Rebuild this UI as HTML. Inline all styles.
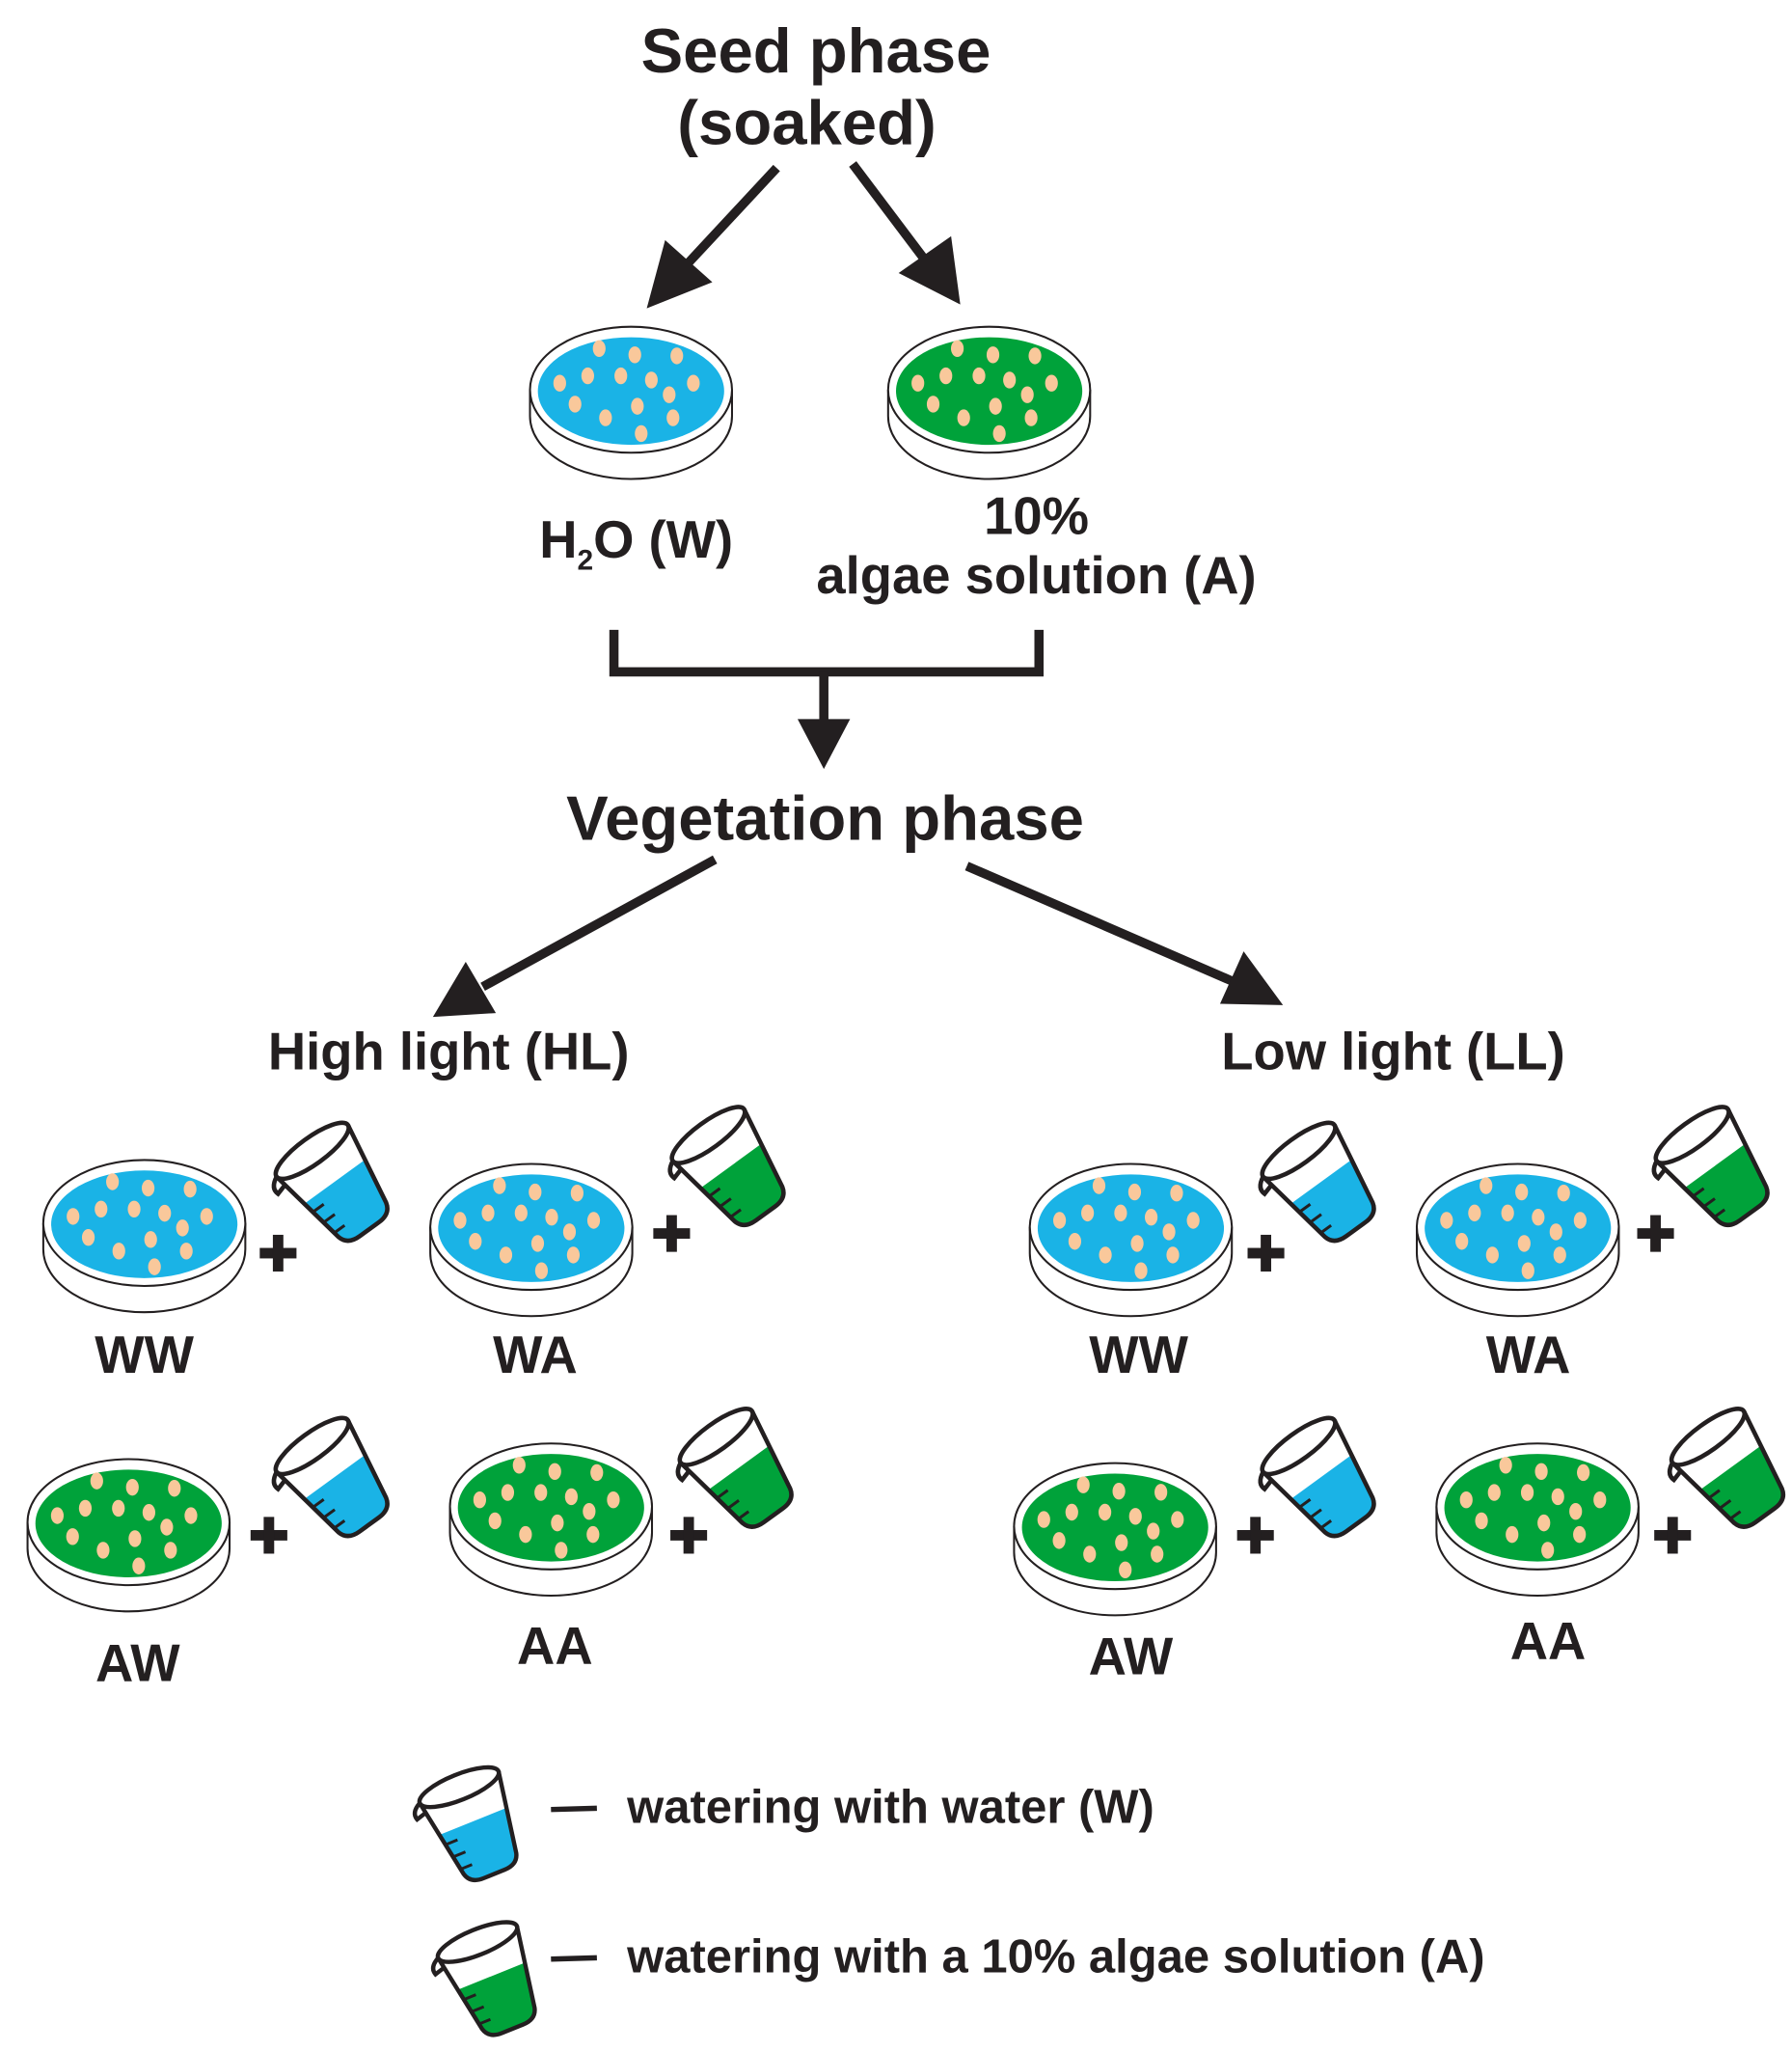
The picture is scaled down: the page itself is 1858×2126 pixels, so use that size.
<!DOCTYPE html>
<html><head><meta charset="utf-8"><style>
html,body{margin:0;padding:0;background:#fff}
svg{display:block}
text{font-family:"Liberation Sans",Arial,sans-serif;font-weight:bold;fill:#231f20}
</style></head><body>
<svg width="1858" height="2126" viewBox="0 0 1366 1563" xmlns="http://www.w3.org/2000/svg">
<defs>
<g id="seeds0" fill="#f9c89b">
<ellipse cx="-25" cy="-38" rx="5" ry="8"/><ellipse cx="3" cy="-32" rx="5" ry="8"/><ellipse cx="36" cy="-31" rx="5" ry="8"/>
<ellipse cx="-56" cy="-5" rx="5" ry="8"/><ellipse cx="-34" cy="-12" rx="5" ry="8"/><ellipse cx="-8" cy="-12" rx="5" ry="8"/>
<ellipse cx="16" cy="-8" rx="5" ry="8"/><ellipse cx="49" cy="-5" rx="5" ry="8"/><ellipse cx="30" cy="6" rx="5" ry="8"/>
<ellipse cx="-44" cy="15" rx="5" ry="8"/><ellipse cx="5" cy="17" rx="5" ry="8"/><ellipse cx="33" cy="28" rx="5" ry="8"/>
<ellipse cx="-20" cy="28" rx="5" ry="8"/><ellipse cx="8" cy="43" rx="5" ry="8"/>
</g>
<g id="seeds"><use href="#seeds0" transform="translate(0,-1) scale(0.97,0.8)"/></g>
<g id="dishB">
<path d="M-77,0 L-77,20 A77,48 0 0 0 77,20 L77,0" fill="#fff" stroke="#231f20" stroke-width="1.5"/>
<ellipse cx="0" cy="0" rx="77" ry="48" fill="#fff" stroke="#231f20" stroke-width="1.5"/>
<ellipse cx="0" cy="1" rx="71" ry="41" fill="#1ab3e6"/>
<use href="#seeds"/>
</g>
<g id="dishG">
<path d="M-77,0 L-77,20 A77,48 0 0 0 77,20 L77,0" fill="#fff" stroke="#231f20" stroke-width="1.5"/>
<ellipse cx="0" cy="0" rx="77" ry="48" fill="#fff" stroke="#231f20" stroke-width="1.5"/>
<ellipse cx="0" cy="1" rx="71" ry="41" fill="#00a23a"/>
<use href="#seeds"/>
</g>
<g id="beakerB">
<path d="M-30,0 L-20,58 Q-18,66 -8,66 L8,66 Q18,66 20,58 L30,0 Z" fill="#fff"/>
<path d="M-25.5,26 L25.5,26 L20,58 Q18,66 8,66 L-8,66 Q-18,66 -20,58 Z" fill="#1ab3e6"/>
<path d="M-30,0 L-20,58 Q-18,66 -8,66 L8,66 Q18,66 20,58 L30,0" fill="none" stroke="#231f20" stroke-width="3" stroke-linejoin="round"/>
<ellipse cx="0" cy="0" rx="30" ry="9" fill="none" stroke="#231f20" stroke-width="3"/>
<path d="M-30,0 Q-38,4 -36,10 L-29,8" fill="none" stroke="#231f20" stroke-width="3"/>
<path d="M-24,34 L-15,34 M-22,44 L-13,44 M-21,54 L-12,54" stroke="#231f20" stroke-width="2"/>
</g>
<g id="beakerG">
<path d="M-30,0 L-20,58 Q-18,66 -8,66 L8,66 Q18,66 20,58 L30,0 Z" fill="#fff"/>
<path d="M-25.5,26 L25.5,26 L20,58 Q18,66 8,66 L-8,66 Q-18,66 -20,58 Z" fill="#00a23a"/>
<path d="M-30,0 L-20,58 Q-18,66 -8,66 L8,66 Q18,66 20,58 L30,0" fill="none" stroke="#231f20" stroke-width="3" stroke-linejoin="round"/>
<ellipse cx="0" cy="0" rx="30" ry="9" fill="none" stroke="#231f20" stroke-width="3"/>
<path d="M-30,0 Q-38,4 -36,10 L-29,8" fill="none" stroke="#231f20" stroke-width="3"/>
<path d="M-24,34 L-15,34 M-22,44 L-13,44 M-21,54 L-12,54" stroke="#231f20" stroke-width="2"/>
</g>
<g id="plus"><rect x="-14" y="-4" width="28" height="8" fill="#231f20"/><rect x="-4" y="-14" width="8" height="28" fill="#231f20"/></g>
</defs>

<text x="622" y="55" font-size="48" text-anchor="middle">Seed phase</text>
<text x="615" y="110" font-size="48" text-anchor="middle">(soaked)</text>

<g stroke="#231f20" stroke-width="7" fill="#231f20">
<line x1="592" y1="128" x2="525" y2="200"/>
<polygon points="493,235 507,183 543,215" stroke="none"/>
<line x1="650" y1="125" x2="708" y2="202"/>
<polygon points="732,232 685,208 725,180" stroke="none"/>
<polyline points="468,480 468,512 792,512 792,480" fill="none"/>
<line x1="628" y1="512" x2="628" y2="552"/>
<polygon points="628,586 608,548 648,548" stroke="none"/>
<line x1="545" y1="655" x2="368" y2="752"/>
<polygon points="330,775 355,733 378,772" stroke="none"/>
<line x1="737" y1="660" x2="940" y2="748"/>
<polygon points="978,766 930,765 948,725" stroke="none"/>
</g>

<use href="#dishB" x="481" y="297"/>
<use href="#dishG" x="754" y="297"/>
<text x="485" y="425" font-size="40" text-anchor="middle">H<tspan font-size="22" dy="9">2</tspan><tspan dy="-9">O (W)</tspan></text>
<text x="790" y="407" font-size="40" text-anchor="middle">10%</text>
<text x="790" y="452" font-size="40" text-anchor="middle">algae solution (A)</text>

<text x="629" y="640" font-size="48" text-anchor="middle">Vegetation phase</text>
<text x="342" y="815" font-size="40" text-anchor="middle">High light (HL)</text>
<text x="1062" y="815" font-size="40" text-anchor="middle">Low light (LL)</text>

<use href="#dishB" x="110" y="932"/>
<use href="#beakerB" transform="translate(238,877) rotate(-36) scale(1.12)"/>
<use href="#plus" x="212" y="955"/>
<text x="110" y="1046" font-size="40" text-anchor="middle">WW</text>

<use href="#dishB" x="405" y="935"/>
<use href="#beakerG" transform="translate(540,865) rotate(-36) scale(1.12)"/>
<use href="#plus" x="512" y="940"/>
<text x="408" y="1046" font-size="40" text-anchor="middle">WA</text>

<use href="#dishG" x="98" y="1160"/>
<use href="#beakerB" transform="translate(238,1102) rotate(-36) scale(1.12)"/>
<use href="#plus" x="205" y="1170"/>
<text x="105" y="1281" font-size="40" text-anchor="middle">AW</text>

<use href="#dishG" x="420" y="1148"/>
<use href="#beakerG" transform="translate(546,1095) rotate(-36) scale(1.12)"/>
<use href="#plus" x="525" y="1170"/>
<text x="423" y="1268" font-size="40" text-anchor="middle">AA</text>

<use href="#dishB" x="862" y="935"/>
<use href="#beakerB" transform="translate(990,877) rotate(-36) scale(1.12)"/>
<use href="#plus" x="965" y="955"/>
<text x="868" y="1046" font-size="40" text-anchor="middle">WW</text>

<use href="#dishB" x="1157" y="935"/>
<use href="#beakerG" transform="translate(1290,865) rotate(-36) scale(1.12)"/>
<use href="#plus" x="1262" y="940"/>
<text x="1165" y="1046" font-size="40" text-anchor="middle">WA</text>

<use href="#dishG" x="850" y="1163"/>
<use href="#beakerB" transform="translate(990,1102) rotate(-36) scale(1.12)"/>
<use href="#plus" x="957" y="1170"/>
<text x="862" y="1276" font-size="40" text-anchor="middle">AW</text>

<use href="#dishG" x="1172" y="1148"/>
<use href="#beakerG" transform="translate(1302,1095) rotate(-36) scale(1.12)"/>
<use href="#plus" x="1275" y="1170"/>
<text x="1180" y="1264" font-size="40" text-anchor="middle">AA</text>

<use href="#beakerB" transform="translate(350,1362) rotate(-22) scale(1.08)"/>
<line x1="420" y1="1379" x2="455" y2="1378" stroke="#231f20" stroke-width="4"/>
<text x="478" y="1389" font-size="36">watering with water (W)</text>
<use href="#beakerG" transform="translate(364,1480) rotate(-22) scale(1.08)"/>
<line x1="420" y1="1493" x2="455" y2="1492" stroke="#231f20" stroke-width="4"/>
<text x="478" y="1503" font-size="36">watering with a 10% algae solution (A)</text>
</svg>
</body></html>
